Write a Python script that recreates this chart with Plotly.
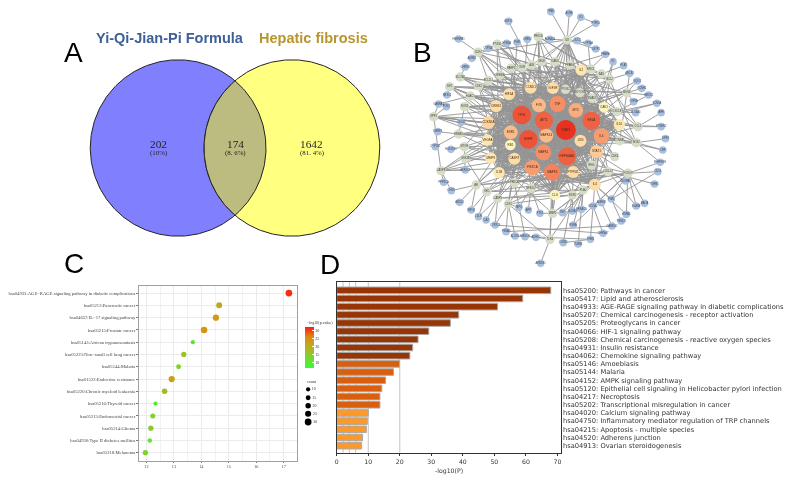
import itertools
import numpy as np
import plotly.graph_objects as go

W, H = 789, 478

# ---------- Panel A ----------
venn_counts = ["202", "174", "1642"]
venn_pcts = ["(10%)", "(8. 6%)", "(81. 4%)"]
venn_titles = ["Yi-Qi-Jian-Pi Formula", "Hepatic fibrosis"]

# ---------- Panel B ----------
hub_labels = ["STAT3", "TP53", "EGFR", "AKT1", "RELA", "HSP90AA1", "MAPK3", "MAPK1", "TNF", "PIK3CA", "IL6",
              "ESR1", "MAPK14", "MYC", "FOS", "JUN", "STAT1", "CCND1", "IGF1R", "HIF1A", "CREB1", "CDKN1A",
              "VEGFA", "MMP9", "RB1", "CASP3", "IL1B", "PTPN11", "IL2", "IL10", "CAV1", "CLU", "IL4"]
hub_x = [498, 365, 385, 432, 575, 502, 457, 430, 473, 397, 605, 332, 439, 528, 417, 542, 590, 392, 459, 327, 288,
         265, 262, 272, 331, 343, 297, 520, 544, 659, 613, 465, 585]
hub_y = [390, 345, 418, 362, 362, 469, 517, 457, 312, 503, 408, 397, 407, 331, 316, 422, 455, 263, 264, 283, 319,
         368, 420, 474, 435, 476, 518, 516, 210, 374, 322, 585, 554]
hub_degree = [100, 93, 93, 90, 90, 90, 83, 80, 80, 77, 77, 70, 70, 73, 70, 60, 66, 60, 60, 60, 60,
              63, 57, 57, 53, 60, 57, 60, 57, 57, 53, 53, 60]

gray_labels = ["ILK", "CDK4", "PTGS1", "PRKCB", "SLC2A1", "IGF1", "HDAC1", "NOS3", "SPP1", "CDK2", "BCL2L1",
               "NFKBIA", "PARP1", "KDR", "ALB", "SELE", "ICAM1", "PPARG", "BIRC5", "BAX", "BCL2", "MDM2",
               "CXCL8", "CCL2", "PTGS2", "NOTCH1", "SMAD3", "ERBB2", "MTOR", "GSK3B", "CASP8", "AR", "SRC",
               "CASP9", "CDK1", "PRKCA", "NFE2L2", "TLR4", "MMP2", "CTNNB1", "NOS2", "CDK6", "IFNG", "CXCL10",
               "FOXO3", "PLAU", "EDN1"]
gray_x = [502, 234, 291, 415, 180, 148, 210, 193, 100, 235, 265, 300, 333, 367, 395, 425, 465, 510, 572, 605, 630,
          682, 652, 715, 497, 540, 577, 175, 192, 195, 122, 228, 260, 293, 325, 343, 393, 450, 458, 660, 710, 645,
          575, 625, 685, 550, 518]
gray_y = [120, 157, 133, 110, 231, 260, 288, 320, 350, 258, 242, 225, 205, 203, 195, 185, 185, 195, 207, 222, 238,
          278, 335, 380, 268, 278, 295, 402, 440, 475, 512, 555, 575, 595, 612, 548, 565, 718, 640, 422, 428, 470,
          495, 515, 520, 570, 585]
gray_links = ["TNF MYC STAT3 AKT1 IL2 FOS RELA TP53", "TP53 MYC CCND1 RB1 STAT3 HIF1A", "TNF RELA IL6 IL1B ESR1 JUN",
              "AKT1 RELA MAPK1 TP53 TNF FOS", "HIF1A AKT1 TP53 MYC", "AKT1 IGF1R MAPK1 MAPK3 STAT3 CREB1",
              "TP53 ESR1 RELA MYC STAT3", "AKT1 VEGFA HSP90AA1 CAV1 TNF", "IL6 AKT1 EGFR TNF CDKN1A RB1",
              "TP53 RB1 CCND1 MYC CDKN1A", "STAT3 TP53 AKT1 JUN", "RELA TNF AKT1 IL6", "TP53 CASP3 STAT3 EGFR",
              "VEGFA EGFR AKT1 PIK3CA", "TNF IL6 AKT1 TP53", "TNF RELA IL1B IL6", "TNF RELA IL6 IL1B STAT3 JUN",
              "TNF STAT3 MYC RELA ESR1", "STAT3 TP53 MYC AKT1 EGFR", "TP53 CASP3 AKT1 MYC",
              "TP53 STAT3 AKT1 RELA IL6", "TP53 AKT1 MYC RELA", "IL6 TNF RELA STAT3 IL1B", "IL6 TNF RELA IL10",
              "TNF IL6 RELA MYC STAT3", "MYC STAT3 TP53 AKT1", "TP53 JUN MYC RELA", "EGFR ESR1 PIK3CA AKT1",
              "AKT1 PIK3CA HIF1A", "AKT1 MYC JUN", "CASP3 TP53 TNF RELA", "ESR1 EGFR AKT1 PIK3CA",
              "EGFR STAT3 PIK3CA", "CASP3 AKT1 TP53 MAPK1", "CCND1 TP53 MYC", "MAPK1 MAPK3 AKT1 EGFR RELA",
              "MAPK1 MAPK3 RELA TP53 JUN", "TNF MAPK3", "TNF MAPK3 MMP9 STAT3", "MYC AKT1 JUN TP53 IL6",
              "IL6 TNF RELA STAT3", "CCND1 MYC STAT1", "STAT1 STAT3 IL6 TNF IL10", "IL4 STAT1 IL6 TNF",
              "AKT1 IL4 MAPK1", "IL4 MAPK3 HSP90AA1", "MAPK3 PTPN11 AKT1"]

blue_labels = ["GDF15", "HNRNPA1", "CYP1A1", "ADRB2", "CHRM1", "PON1", "GABRA1", "NR3C2", "HTR2A", "PGR", "CHEK2",
               "ADRA2A", "THBD", "ACHE", "IL5", "PTPN1", "ODC1", "CYP3A4", "GSTP1", "PPARA", "F2", "PLAT", "ABCB1",
               "NQO1", "KCNH2", "HMOX1", "SCN5A", "AHR", "SLC6A4", "TOP2A", "PTGER2", "DPP4", "CRP", "SERPINE1",
               "CD14", "TGFB1", "MAOA", "ELANE", "ADORA1", "PIM1", "AURKB", "NCOA2", "HSPA5", "PSMD3", "GABRG2",
               "CHRNA7", "THRB", "TUBB3", "CCNB1", "RXRA", "NCOA1", "PRKACA", "TEK", "CYP1B1", "HSD11B1", "AKR1C3",
               "PPP3CA", "CHUK", "ABCG2", "NR1I2", "LDLR", "CA2", "CYP2C9", "PSMA5", "ALOX5", "HMGCR", "ADH1C",
               "AKR1B1", "MPO", "APP", "PTK2", "IGFBP3", "CDC42"]
blue_x = [325, 175, 265, 215, 195, 138, 115, 140, 320, 351, 382, 450, 453, 508, 543, 588, 532, 565, 588, 617, 640,
          672, 690, 713, 727, 747, 772, 785, 708, 702, 785, 798, 790, 782, 775, 765, 735, 710, 678, 635, 605, 580,
          680, 665, 637, 610, 572, 535, 490, 520, 518, 545, 488, 105, 152, 195, 130, 153, 178, 213, 235, 258, 285,
          318, 345, 375, 408, 422, 357, 385, 420, 112, 183]
blue_y = [64, 117, 145, 175, 201, 320, 312, 285, 130, 127, 118, 118, 35, 40, 52, 70, 122, 130, 147, 163, 185,
          197, 220, 243, 265, 285, 310, 338, 338, 305, 380, 416, 450, 487, 515, 552, 610, 618, 543, 597, 608, 618,
          643, 663, 678, 700, 718, 732, 728, 675, 633, 628, 638, 440, 448, 510, 547, 572, 607, 630, 650, 660, 675,
          695, 708, 710, 712, 790, 622, 630, 640, 395, 367]
blue_links = ["ALB", "CDK4", "CDK4 ALB", "CDK4", "SLC2A1", "SPP1", "SPP1 HDAC1", "IGF1", "AKT1 PTGS1", "ESR1", "TP53",
              "ILK", "ILK", "ILK", "ILK", "ILK IL5", "ILK", "ILK BIRC5", "ILK", "BIRC5 PPARG", "BCL2 RELA", "BAX",
              "BCL2 MDM2", "MDM2 MYC", "MDM2", "MDM2 CXCL8", "CXCL8 RELA", "CCL2", "CXCL8", "MDM2", "CCL2 IL10", "NOS2",
              "NOS2 CTNNB1", "FOXO3 NOS2", "FOXO3", "CXCL10", "FOXO3", "FOXO3 CXCL10", "CXCL10 FOXO3", "IL4 FOXO3",
              "IL4", "IL4 FOXO3", "IL4", "PIM1", "AURKB", "NCOA2", "NCOA2", "PLAU", "EDN1", "PLAU", "PLAU EDN1", "PLAU",
              "MMP2 EDN1", "ERBB2", "MTOR", "CASP8 MTOR", "CASP8", "CASP8 AR", "AR", "AR SRC", "SRC CASP9", "CASP9",
              "CASP9 CDK1", "CDK1", "CDK1", "PRKCA", "TLR4", "TLR4", "CDK1 NFE2L2", "NFE2L2", "NFE2L2 MMP2", "ERBB2",
              "NOS3 ERBB2"]
extra_links = ["CYP2C9 CHRNA7", "ALOX5 THRB", "FOXO3 RXRA", "CD14 PIM1", "CXCL10 TEK", "HSPA5 FOXO3", "PSMA5 GABRG2",
               "CASP8 SPP1", "GSK3B SRC", "IFNG EDN1", "TEK PRKACA", "CCNB1 THRB",
               "CDK4 BCL2", "CDK4 ILK", "PTGS1 PPARG", "PTGS1 BAX", "PRKCB BIRC5", "PRKCB BCL2", "SLC2A1 PTGS2",
               "SLC2A1 NOTCH1", "IGF1 MDM2", "IGF1 SMAD3", "HDAC1 CXCL8", "HDAC1 NOTCH1", "NOS3 SMAD3", "NOS3 CCL2",
               "SPP1 CTNNB1", "SPP1 CDK6", "CDK2 SMAD3", "CDK2 MDM2", "BCL2L1 BAX", "BCL2L1 NOTCH1", "NFKBIA BIRC5",
               "NFKBIA CXCL8", "PARP1 BCL2", "PARP1 SMAD3", "KDR PTGS2", "KDR MDM2", "ALB CTNNB1", "ALB CXCL8",
               "SELE BCL2", "SELE NOS2", "ICAM1 CCL2", "ICAM1 CDK6", "PPARG CTNNB1", "PPARG NOS2", "ERBB2 CTNNB1",
               "ERBB2 CDK6", "MTOR IFNG", "MTOR NOS2", "GSK3B CXCL10", "GSK3B IFNG", "CASP8 IFNG", "AR CXCL10",
               "AR FOXO3", "SRC PLAU", "SRC FOXO3", "CASP9 PLAU", "CASP9 EDN1", "CDK1 EDN1", "CDK1 IFNG",
               "PRKCA IFNG", "PRKCA CXCL10", "NFE2L2 FOXO3", "NFE2L2 CXCL10", "MMP2 CXCL10", "MMP2 PLAU",
               "TLR4 PLAU", "TLR4 CDK1", "BIRC5 CXCL8", "BAX CCL2", "BCL2 NOS2", "MDM2 CTNNB1", "ILK NOTCH1",
               "ILK SMAD3", "ILK PTGS2", "ILK ICAM1", "ILK SELE", "ILK ALB", "ILK PPARG"]

# ---------- Panel C ----------
c_terms = ["hsa04933:AGE\u2212RAGE signaling pathway in diabetic complications", "hsa05212:Pancreatic cancer",
           "hsa04657:IL\u221217 signaling pathway", "hsa05215:Prostate cancer", "hsa05143:African trypanosomiasis",
           "hsa05223:Non\u2212small cell lung cancer", "hsa05144:Malaria", "hsa01522:Endocrine resistance",
           "hsa05220:Chronic myeloid leukemia", "hsa05216:Thyroid cancer", "hsa05213:Endometrial cancer",
           "hsa05214:Glioma", "hsa04930:Type II diabetes mellitus", "hsa05218:Melanoma"]
c_enrichment = [17.19, 14.65, 14.53, 14.10, 13.69, 13.36, 13.17, 12.92, 12.66, 12.33, 12.23, 12.16, 12.12, 11.96]
c_logp = [31, 21, 23, 24, 11, 17, 14, 22, 18, 10, 14, 15, 11, 14]
c_count = [30, 24, 26, 28, 10, 18, 14, 26, 20, 10, 16, 18, 12, 18]
c_legend_counts = [10, 15, 20, 25, 30]

# ---------- Panel D ----------
d_terms = ["hsa05200: Pathways in cancer", "hsa05417: Lipid and atherosclerosis",
           "hsa04933: AGE-RAGE signaling pathway in diabetic complications",
           "hsa05207: Chemical carcinogenesis - receptor activation", "hsa05205: Proteoglycans in cancer",
           "hsa04066: HIF-1 signaling pathway", "hsa05208: Chemical carcinogenesis - reactive oxygen species",
           "hsa04931: Insulin resistance", "hsa04062: Chemokine signaling pathway", "hsa05146: Amoebiasis",
           "hsa05144: Malaria", "hsa04152: AMPK signaling pathway",
           "hsa05120: Epithelial cell signaling in Helicobacter pylori infection", "hsa04217: Necroptosis",
           "hsa05202: Transcriptional misregulation in cancer", "hsa04020: Calcium signaling pathway",
           "hsa04750: Inflammatory mediator regulation of TRP channels", "hsa04215: Apoptosis - multiple species",
           "hsa04520: Adherens junction", "hsa04913: Ovarian steroidogenesis"]
d_values = [67.9, 59.0, 51.0, 38.7, 36.05, 29.2, 25.8, 24.1, 23.2, 19.9, 18.0, 15.5, 14.3, 13.7, 13.7, 10.0, 9.7,
            9.4, 8.2, 7.9]
d_thresholds = [2, 4, 6, 10, 20]


def dx(l, r):
    return [l / W, r / W]


def dy(t, b):
    return [1 - b / H, 1 - t / H]


fig = go.Figure()

# ---- A: Venn -------------------------------------------------------
cx1, cx2, cy, rv = 176.8, 291.0, 148.0, 88.2
th = np.linspace(0, 2 * np.pi, 361)
fig.add_trace(go.Scatter(x=cx1 + rv * np.cos(th), y=cy + rv * np.sin(th), mode="lines", fill="toself",
                         fillcolor="#8080ff", line=dict(color="#222222", width=1), xaxis="x", yaxis="y"))
fig.add_trace(go.Scatter(x=cx2 + rv * np.cos(th), y=cy + rv * np.sin(th), mode="lines", fill="toself",
                         fillcolor="#ffff80", line=dict(color="#222222", width=1), xaxis="x", yaxis="y"))
half = np.arccos((cx2 - cx1) / (2 * rv))
t1 = np.linspace(-half, half, 80)
t2 = np.linspace(np.pi - half, np.pi + half, 80)
fig.add_trace(go.Scatter(x=np.r_[cx1 + rv * np.cos(t1), cx2 + rv * np.cos(t2)],
                         y=np.r_[cy + rv * np.sin(t1), cy + rv * np.sin(t2)], mode="lines", fill="toself",
                         fillcolor="#bcbc80", line=dict(color="#222222", width=1), xaxis="x", yaxis="y"))

# ---- B: network ----------------------------------------------------
pos = {}
for labs, xs, ys in ((hub_labels, hub_x, hub_y), (gray_labels, gray_x, gray_y), (blue_labels, blue_x, blue_y)):
    for lab, px_, py_ in zip(labs, xs, ys):
        pos[lab] = (px_, py_)

ex, ey = [], []


def add_edge(a, b):
    ex.extend([pos[a][0], pos[b][0], None])
    ey.extend([pos[a][1], pos[b][1], None])


for a, b in itertools.combinations(hub_labels, 2):
    add_edge(a, b)
for labs, links in ((gray_labels, gray_links), (blue_labels, blue_links)):
    for lab, ln in zip(labs, links):
        for t in ln.split():
            add_edge(lab, t)
for pair in extra_links:
    add_edge(*pair.split())

fig.add_trace(go.Scatter(x=ex, y=ey, mode="lines", line=dict(color="#949494", width=0.9), xaxis="x2", yaxis="y2"))
fig.add_trace(go.Scatter(x=blue_x, y=blue_y, text=blue_labels, mode="markers+text", textposition="middle center",
                         textfont=dict(size=2.6, color="#33455f", family="Liberation Sans"),
                         marker=dict(size=7.6, color="#a9bfdc", opacity=1, line=dict(width=0)), xaxis="x2", yaxis="y2"))
fig.add_trace(go.Scatter(x=gray_x, y=gray_y, text=gray_labels, mode="markers+text", textposition="middle center",
                         textfont=dict(size=2.6, color="#3c4034", family="Liberation Sans"),
                         marker=dict(size=9.5, color="#d5dcc8", opacity=1, line=dict(width=0)), xaxis="x2", yaxis="y2"))
fig.add_trace(go.Scatter(x=hub_x, y=hub_y, text=hub_labels, mode="markers+text", textposition="middle center",
                         textfont=dict(size=3, color="#4a2a10", family="Liberation Sans"),
                         marker=dict(size=[d * 0.2 for d in hub_degree], color=hub_degree, cmin=53, cmax=100, opacity=1,
                                     line=dict(width=0),
                                     colorscale=[[0, "#fdf3bd"], [0.3, "#fbc793"], [0.6, "#f68a62"], [1, "#e8321f"]]),
                         xaxis="x2", yaxis="y2"))


def dot_size(c):
    return 3.0 + 0.125 * c


# ---- C: dot plot ---------------------------------------------------
fig.add_trace(go.Scatter(x=c_enrichment, y=c_terms, mode="markers", xaxis="x3", yaxis="y3",
                         marker=dict(size=[dot_size(c) for c in c_count], color=c_logp, cmin=6.7, cmax=32, opacity=1,
                                     line=dict(width=0),
                                     colorscale=[[0, "#33ff33"], [0.5, "#b8b020"], [0.75, "#e08a10"], [1, "#ff1a10"]],
                                     colorbar=dict(x=304 / W, xanchor="left", xpad=0, y=1 - 368 / H, yanchor="bottom",
                                                   ypad=0, lenmode="pixels", len=41, thicknessmode="pixels",
                                                   thickness=8.5, outlinewidth=0, tickvals=[10, 15, 20, 25, 30],
                                                   ticks="inside", ticklen=2, tickcolor="#ffffff",
                                                   tickfont=dict(size=4, family="Liberation Serif", color="#333333"))),
                         ))
# size legend, placed in figure pixels
fig.add_trace(go.Scatter(x=[307.3] * len(c_legend_counts), y=[389.3, 397.7, 405.7, 413.7, 422.0],
                         text=[str(c) for c in c_legend_counts], mode="markers+text", textposition="middle right",
                         textfont=dict(size=4, family="Liberation Serif", color="#333333"),
                         marker=dict(size=[dot_size(c) for c in c_legend_counts], color="#000000", opacity=1,
                                     line=dict(width=0)),
                         xaxis="x", yaxis="y"))

# ---- D: bars -------------------------------------------------------
d_colors = ["#993404"] * 9 + ["#d95f0e"] * 6 + ["#fe9929"] * 5
fig.add_trace(go.Bar(x=d_values, y=d_terms, orientation="h", marker=dict(color=d_colors, line=dict(color="#a8a8a8", width=1)),
                     width=0.8, xaxis="x4", yaxis="y4"))

shapes = [dict(type="line", xref="x4", yref="y4 domain", x0=t, x1=t, y0=0, y1=1, layer="below",
               line=dict(color="#c4c4c4", width=1)) for t in d_thresholds]

ann = []


def note(x, y, text, size, family="Liberation Sans", color="#000000", bold=False, xanchor="center"):
    ann.append(dict(x=x, y=y, xref="x", yref="y", text=f"<b>{text}</b>" if bold else text, showarrow=False,
                    font=dict(size=size, family=family, color=color), xanchor=xanchor, yanchor="middle"))


for letter, lx, ly in (("A", 71.5, 52), ("B", 422, 52), ("C", 72.5, 263.5), ("D", 329, 264)):
    note(lx, ly, letter, 28)
note(169, 38, venn_titles[0], 14.5, color="#3f6096", bold=True)
note(312.5, 38, venn_titles[1], 14.5, color="#b8962e", bold=True)
for vx, c, p in zip((157, 234, 310.7), venn_counts, venn_pcts):
    note(vx, 144, c, 11.3, family="Liberation Serif", color="#222222")
    note(vx, 153, p, 6.9, family="Liberation Serif", color="#222222")
note(304, 322, "\u2212log10(p.value)", 4, family="Liberation Serif", color="#333333", xanchor="left")
note(304, 381, "count", 4, family="Liberation Serif", color="#333333", xanchor="left")
note(449, 470.7, "-log10(P)", 6.2, family="DejaVu Sans", color="#333333")

hidden = dict(visible=False, showgrid=False, zeroline=False)
fig.update_layout(
    width=W, height=H, margin=dict(l=0, r=0, t=0, b=0), paper_bgcolor="#ffffff", plot_bgcolor="rgba(0,0,0,0)",
    showlegend=False, annotations=ann, shapes=shapes, bargap=0.2,
    xaxis=dict(domain=[0, 1], range=[0, W], **hidden),
    yaxis=dict(domain=[0, 1], range=[H, 0], **hidden),
    xaxis2=dict(domain=dx(400, 680), range=[0, 840], **hidden),
    yaxis2=dict(domain=dy(0, 270), range=[810, 0], **hidden),
    xaxis3=dict(domain=dx(137.3, 295.7), range=[11.72, 17.47], tickvals=[12, 13, 14, 15, 16, 17], ticks="outside",
                ticklen=1.5, tickcolor="#777777", tickfont=dict(size=4.2, family="Liberation Serif", color="#444444"),
                showgrid=True, gridcolor="#ebebeb", gridwidth=0.7, zeroline=False, showline=True, linecolor="#a0a0a0",
                linewidth=1, mirror=True, minor=dict(dtick=0.5, showgrid=True, gridcolor="#f2f2f2", gridwidth=0.4)),
    yaxis3=dict(domain=dy(285.7, 460.7), type="category", range=[13.65, -0.6], categoryorder="array",
                categoryarray=c_terms, ticks="outside", ticklen=1.5, tickcolor="#777777",
                tickfont=dict(size=4.65, family="Liberation Serif", color="#444444"), showgrid=True, gridcolor="#ebebeb",
                gridwidth=0.7, zeroline=False, showline=True, linecolor="#a0a0a0", linewidth=1, mirror=True),
    xaxis4=dict(domain=dx(336, 560.7), range=[0, 71], tickvals=[0, 10, 20, 30, 40, 50, 60, 70], ticks="outside",
                ticklen=2.5, tickcolor="#333333", tickfont=dict(size=6.2, family="DejaVu Sans", color="#333333"),
                showgrid=False, zeroline=False, showline=True, linecolor="#333333", linewidth=1, mirror=True),
    yaxis4=dict(domain=dy(282.3, 452.7), type="category", range=[19.86, -0.98], categoryorder="array",
                categoryarray=d_terms, side="right", anchor="x4", ticks="", ticklen=0,
                tickfont=dict(size=6.7, family="DejaVu Sans", color="#333333"), showgrid=False, zeroline=False,
                showline=True, linecolor="#333333", linewidth=1, mirror=True),
)
fig.update_layout(xaxis3_anchor="y3", yaxis3_anchor="x3", xaxis4_anchor="y4", xaxis2_anchor="y2", yaxis2_anchor="x2")

fig.write_html("out.html", config={"displayModeBar": False},
               post_script="document.body.style.margin='0';document.body.style.overflow='hidden';document.body.style.filter='blur(0.4px)';")
